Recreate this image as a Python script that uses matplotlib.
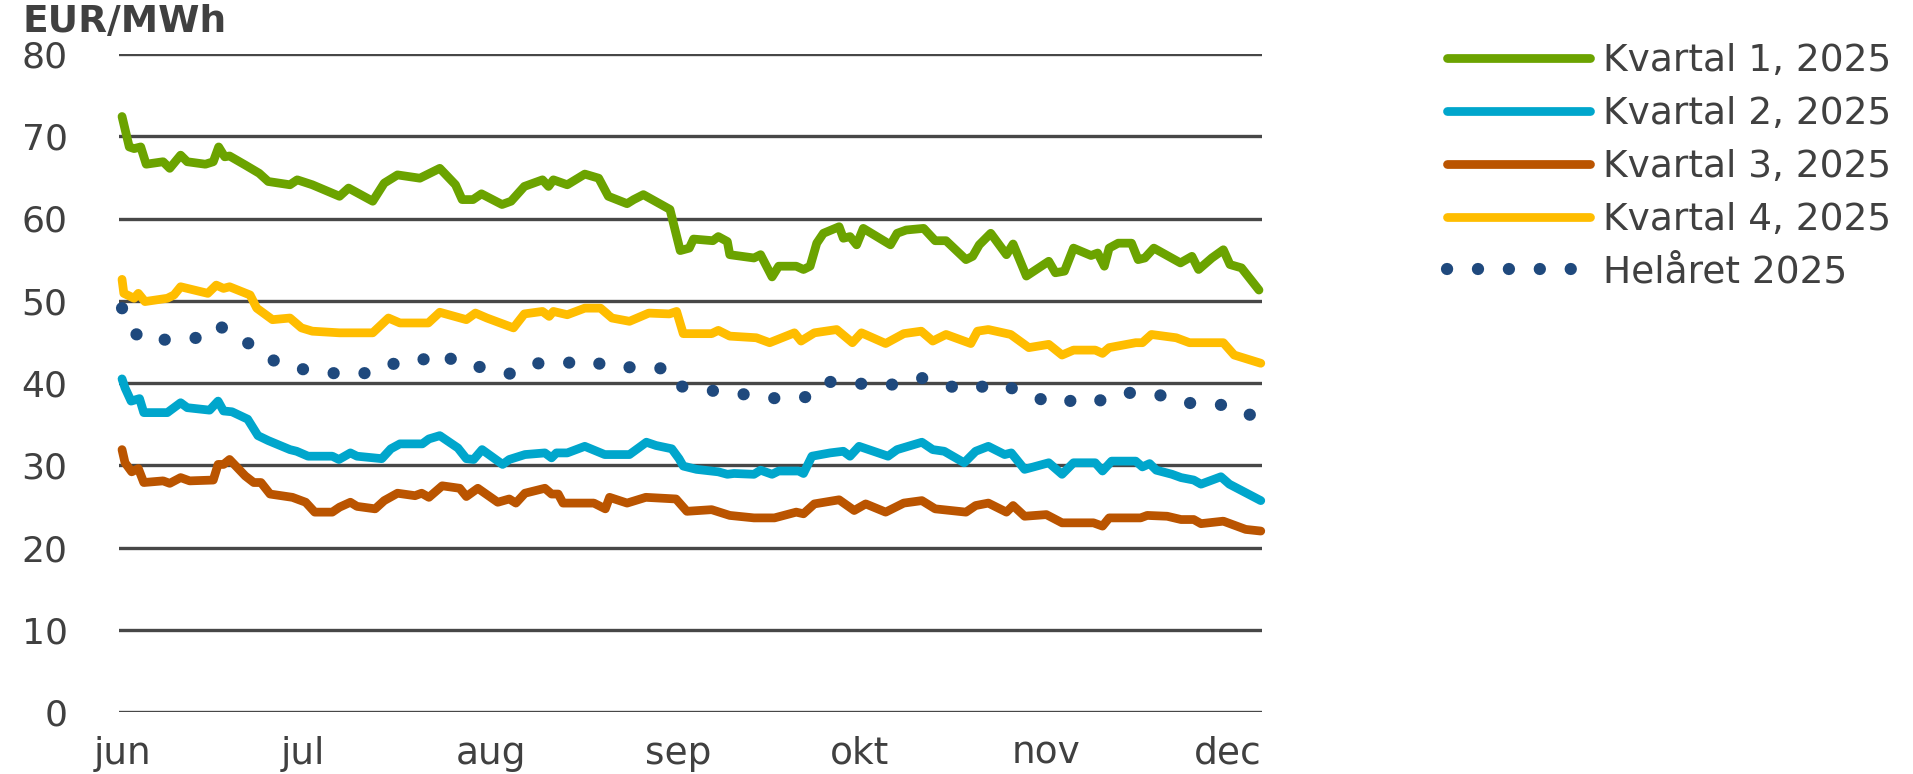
import matplotlib
matplotlib.use("Agg")
import matplotlib.pyplot as plt
import pandas as pd

# ---------------- data ----------------
start_date = pd.Timestamp("2025-06-01")          # day 0
month_starts = ["2025-06-01", "2025-07-01", "2025-08-01", "2025-09-01",
                "2025-10-01", "2025-11-01", "2025-12-01"]
month_labels = ["jun", "jul", "aug", "sep", "okt", "nov", "dec"]
series_names = ["Kvartal 1, 2025", "Kvartal 2, 2025", "Kvartal 3, 2025",
                "Kvartal 4, 2025", "Helåret 2025"]
y_ticks = [0, 10, 20, 30, 40, 50, 60, 70, 80]
unit_label = "EUR/MWh"

# days since 2025-06-01, EUR/MWh
q1_days = [0.0, 1.2, 2.0, 3.1, 4.0, 6.8, 7.9, 9.7, 10.8, 13.8, 15.1, 16.0, 17.0, 17.8,
           20.4, 22.7, 24.2, 27.8, 29.0, 31.5, 36.0, 37.5, 41.5, 43.4, 45.6, 49.3,
           52.6, 55.2, 56.3, 58.1, 59.5, 62.9, 64.4, 66.6, 69.6, 70.6, 71.4, 73.7,
           76.6, 78.9, 80.5, 83.6, 84.7, 86.3, 90.7, 92.4, 93.9, 94.6, 97.8, 98.7,
           100.2, 100.6, 104.6, 105.7, 107.6, 108.7, 111.6, 112.8, 113.9, 115.0,
           116.1, 118.7, 119.4, 120.5, 121.6, 122.7, 127.2, 128.3, 129.8, 132.7,
           134.6, 136.4, 139.7, 140.8, 141.9, 143.8, 146.4, 147.5, 149.7, 153.4,
           154.5, 156.0, 157.5, 160.4, 161.5, 162.6, 163.4, 164.9, 167.1, 168.2,
           169.3, 170.8, 175.2, 177.1, 178.2, 180.4, 182.3, 183.4, 185.3, 188.2]
q1_vals = [72.4, 68.7, 68.5, 68.7, 66.6, 66.9, 66.1, 67.7, 66.9, 66.6, 66.9, 68.7, 67.5, 67.6,
           66.5, 65.5, 64.5, 64.1, 64.7, 64.1, 62.7, 63.7, 62.1, 64.3, 65.3, 64.9,
           66.1, 64.1, 62.3, 62.3, 63.0, 61.7, 62.1, 63.9, 64.7, 63.9, 64.7, 64.1,
           65.4, 64.9, 62.7, 61.8, 62.3, 62.9, 61.1, 56.1, 56.4, 57.5, 57.3, 57.8,
           57.2, 55.6, 55.2, 55.6, 52.9, 54.2, 54.2, 53.8, 54.2, 57.0,
           58.2, 59.0, 57.6, 57.8, 56.8, 58.8, 56.8, 58.2, 58.6, 58.8,
           57.3, 57.3, 55.0, 55.4, 56.8, 58.2, 55.6, 56.9, 53.0, 54.8,
           53.4, 53.6, 56.4, 55.5, 55.8, 54.2, 56.4, 57.0, 57.0, 55.0,
           55.2, 56.4, 54.6, 55.4, 53.8, 55.2, 56.2, 54.4, 54.0, 51.3]

q2_days = [0.0, 0.5, 1.5, 2.9, 3.6, 7.5, 9.7, 10.8, 14.5, 15.9, 16.8, 18.2, 20.8, 22.5,
           24.2, 27.8, 28.9, 30.8, 34.8, 35.9, 37.8, 38.9, 43.0, 44.5, 46.0, 49.7,
           50.8, 52.6, 55.6, 57.0, 58.2, 59.6, 63.0, 64.1, 66.7, 70.0, 71.1, 71.9,
           73.7, 76.6, 79.9, 84.0, 86.8, 88.4, 91.0, 92.2, 92.9, 95.1, 98.7, 100.2,
           101.3, 104.6, 105.7, 107.6, 108.7, 112.0, 112.8, 114.2, 117.2, 119.4,
           120.5, 122.0, 126.8, 128.3, 132.4, 134.2, 136.1, 139.4, 141.3, 143.4,
           146.1, 147.2, 149.4, 153.4, 155.6, 157.5, 161.1, 162.3, 163.8, 167.8,
           168.9, 170.1, 171.2, 173.8, 175.3, 177.4, 178.6, 181.9, 183.3, 188.5]
q2_vals = [40.5, 39.4, 37.8, 38.1, 36.4, 36.4, 37.6, 37.0, 36.7, 37.8, 36.6, 36.5, 35.6, 33.6,
           33.0, 31.9, 31.7, 31.1, 31.1, 30.7, 31.5, 31.1, 30.8, 32.0, 32.6, 32.6,
           33.2, 33.6, 32.1, 30.8, 30.7, 31.9, 30.1, 30.7, 31.3, 31.5, 30.9, 31.5,
           31.5, 32.3, 31.3, 31.3, 32.8, 32.4, 32.0, 30.8, 29.9, 29.5, 29.2, 28.9,
           29.0, 28.9, 29.4, 28.9, 29.3, 29.3, 29.0, 31.1, 31.5, 31.7,
           31.1, 32.3, 31.1, 31.9, 32.8, 31.9, 31.7, 30.3, 31.7, 32.3,
           31.3, 31.5, 29.5, 30.3, 28.9, 30.3, 30.3, 29.3, 30.5, 30.5,
           29.8, 30.2, 29.4, 28.9, 28.5, 28.2, 27.7, 28.6, 27.7, 25.7]

q3_days = [0.0, 0.5, 1.6, 2.7, 3.6, 6.8, 7.9, 9.7, 11.2, 15.1, 15.9, 16.8, 17.8, 20.4,
           21.8, 23.0, 24.5, 28.2, 30.4, 31.9, 34.8, 36.0, 37.8, 38.9, 41.9, 43.4,
           45.6, 48.5, 49.6, 50.8, 53.0, 55.9, 57.0, 58.9, 62.2, 64.1, 65.2, 66.7,
           70.0, 71.1, 72.2, 73.0, 78.1, 80.0, 80.7, 83.6, 86.7, 91.7, 93.5, 97.6,
           100.6, 104.6, 108.0, 111.6, 112.8, 114.6, 118.7, 121.2, 123.1, 126.4,
           129.4, 132.4, 134.6, 139.7, 141.3, 143.4, 146.4, 147.5, 149.4, 153.0,
           155.6, 160.8, 162.3, 163.4, 168.6, 169.7, 173.0, 175.3, 177.4, 178.6,
           182.3, 186.0, 188.5]
q3_vals = [31.9, 30.3, 29.2, 29.6, 27.9, 28.1, 27.8, 28.5, 28.1, 28.2, 30.1, 30.1, 30.7, 28.7,
           27.9, 27.9, 26.5, 26.1, 25.5, 24.3, 24.3, 24.9, 25.5, 25.0, 24.7, 25.7,
           26.6, 26.3, 26.6, 26.1, 27.5, 27.2, 26.2, 27.2, 25.5, 25.9, 25.4, 26.6,
           27.2, 26.5, 26.5, 25.4, 25.4, 24.7, 26.1, 25.4, 26.1, 25.9, 24.4, 24.6,
           23.9, 23.6, 23.6, 24.3, 24.1, 25.3, 25.8, 24.5, 25.3, 24.3,
           25.4, 25.7, 24.7, 24.3, 25.1, 25.4, 24.3, 25.1, 23.8, 24.0,
           23.0, 23.0, 22.6, 23.6, 23.6, 23.9, 23.8, 23.4, 23.4, 22.9,
           23.2, 22.2, 22.0]

q4_days = [0.0, 0.3, 2.0, 2.7, 3.8, 7.5, 8.6, 9.7, 14.2, 15.6, 16.8, 17.8, 21.2, 22.3,
           24.9, 27.8, 29.7, 31.5, 36.0, 41.5, 44.1, 46.0, 50.7, 52.6, 57.0, 58.5,
           60.4, 64.8, 66.6, 69.6, 70.7, 71.4, 73.7, 76.6, 79.2, 81.1, 84.0, 87.2,
           90.6, 91.8, 92.9, 97.6, 98.7, 100.6, 105.0, 107.2, 111.3, 112.4, 114.6,
           118.3, 120.9, 122.4, 126.4, 129.4, 132.3, 134.2, 136.4, 140.5, 141.6,
           143.4, 147.1, 150.1, 153.4, 155.6, 157.5, 161.1, 162.3, 163.4, 167.8,
           168.9, 170.4, 174.5, 176.7, 182.3, 184.1, 188.5]
q4_vals = [52.6, 50.9, 50.3, 50.9, 49.9, 50.3, 50.7, 51.7, 50.9, 51.9, 51.5, 51.7, 50.7, 49.1,
           47.7, 47.9, 46.7, 46.3, 46.1, 46.1, 47.9, 47.3, 47.3, 48.6, 47.7, 48.5,
           47.9, 46.7, 48.4, 48.7, 48.1, 48.7, 48.3, 49.1, 49.1, 47.9, 47.5, 48.5,
           48.4, 48.7, 46.0, 46.0, 46.4, 45.7, 45.5, 44.9, 46.1, 45.1, 46.1,
           46.5, 44.9, 46.1, 44.8, 46.0, 46.3, 45.1, 45.9, 44.8, 46.3,
           46.5, 45.9, 44.3, 44.7, 43.4, 44.0, 44.0, 43.6, 44.3, 44.9,
           44.9, 45.9, 45.5, 44.9, 44.9, 43.4, 42.4]

year_days = [0.0, 1.2, 4.0, 8.6, 13.1, 15.8, 19.5, 22.7, 26.7, 31.3, 36.2, 40.2, 43.6,
             48.5, 52.6, 56.2, 60.2, 64.4, 68.5, 72.4, 77.0, 81.5, 85.9, 90.4, 92.4,
             95.5, 100.2, 104.9, 108.5, 113.4, 116.6, 120.5, 123.9, 127.7, 132.5,
             136.9, 140.7, 144.5, 148.0, 151.3, 155.1, 159.1, 162.6, 166.7, 171.1,
             175.3, 179.7, 183.8, 187.9]
year_vals = [49.1, 46.6, 45.0, 45.4, 45.5, 47.0, 45.7, 43.7, 42.1, 41.5, 41.1, 41.2, 42.3,
             42.4, 43.8, 42.1, 41.9, 41.1, 42.4, 42.3, 42.8, 41.8, 42.0, 41.7, 39.6,
             39.3, 38.8, 38.5, 38.1, 38.3, 40.2, 39.8, 40.0, 39.8, 40.6,
             39.6, 39.2, 40.0, 39.2, 38.2, 37.4, 38.3, 37.8, 38.8, 38.7,
             37.6, 37.5, 37.2, 35.7]

# ---------------- styling ----------------
W, H, DPI = 1913, 774, 100
TEXT = "#404040"
GRID = "#474747"
colors = ["#6BA300", "#00A6CC", "#BA5400", "#FFBD00", "#1F497D"]

plt.rcParams["font.family"] = ["DejaVu Sans"]

fig = plt.figure(figsize=(W / DPI, H / DPI), dpi=DPI)
ax = fig.add_axes([119 / W, 1 - 712 / H, (1262 - 119) / W, (712 - 54) / H])


def to_dates(days):
    return start_date + pd.to_timedelta(days, unit="D")


lw = 6.3
line_series = [(q1_days, q1_vals), (q2_days, q2_vals), (q3_days, q3_vals), (q4_days, q4_vals)]
handles = []
for (d, v), c, name in zip(line_series, colors[:4], series_names[:4]):
    h, = ax.plot(to_dates(d), v, color=c, lw=lw, solid_capstyle="round",
                 solid_joinstyle="round", label=name, clip_on=False, zorder=3)
    handles.append(h)

dot_lw = 8.8
h, = ax.plot(to_dates(year_days), year_vals, color=colors[4], lw=dot_lw,
             linestyle=(0, (0.01, 2.52)), dash_capstyle="round", label=series_names[4],
             clip_on=False, zorder=3)
handles.append(h)

ax.set_ylim(0, 80)
ax.set_yticks(y_ticks)
ax.set_xlim(to_dates([-0.5])[0], to_dates([188.7])[0])
ax.set_xticks(pd.to_datetime(month_starts))
ax.set_xticklabels(month_labels)

ax.grid(axis="y", color=GRID, lw=2.4)
ax.grid(axis="x", visible=False)
ax.set_axisbelow(True)
for s in ax.spines.values():
    s.set_visible(False)
ax.tick_params(axis="y", length=0, pad=37, labelsize=26, labelcolor=TEXT)
ax.tick_params(axis="x", length=0, pad=17, labelsize=27, labelcolor=TEXT)

fig.text(23 / W, 1 - 32 / H, unit_label, fontsize=27, fontweight="bold", color=TEXT,
         ha="left", va="baseline")

leg = fig.legend(handles=handles, labels=series_names, loc="upper left",
                 bbox_to_anchor=(1447 / W, 1 - 43 / H), bbox_transform=fig.transFigure,
                 frameon=False, fontsize=27, handlelength=3.8, handletextpad=0.35,
                 labelspacing=0.45, borderpad=0, borderaxespad=0)
for t in leg.get_texts():
    t.set_color(TEXT)

fig.savefig("out.png", dpi=DPI)
